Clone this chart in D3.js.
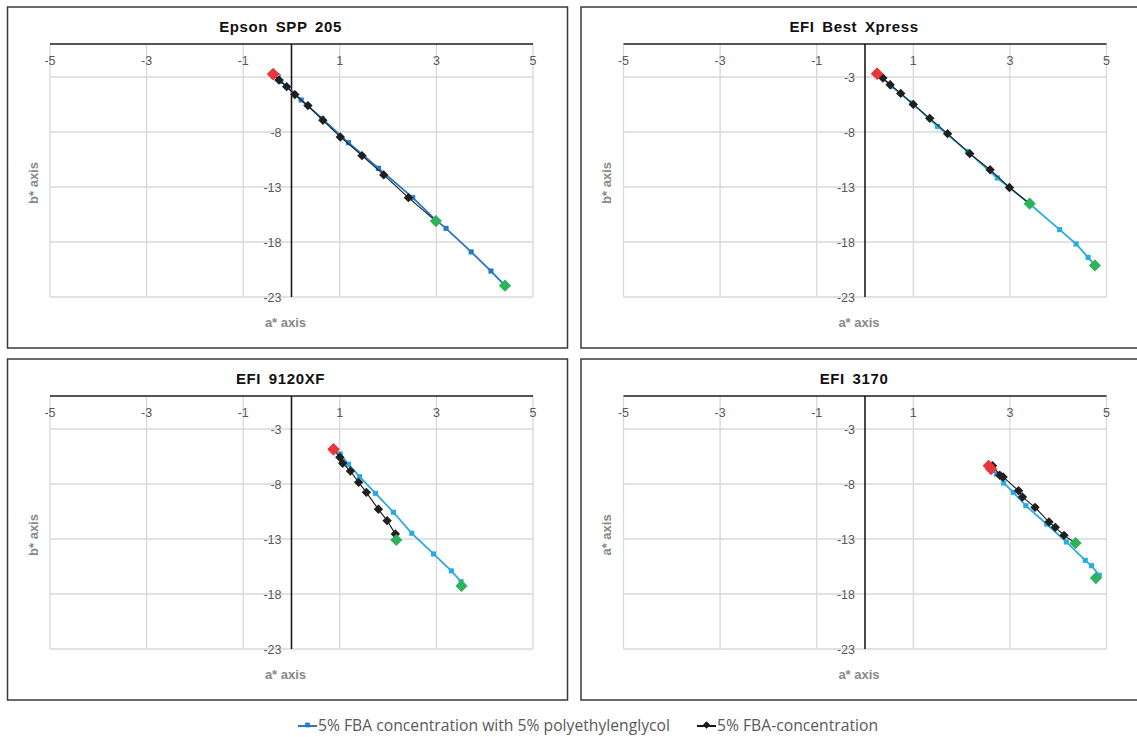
<!DOCTYPE html>
<html>
<head>
<meta charset="utf-8">
<script src="https://cdn.jsdelivr.net/npm/d3@7"></script>
<style>
  body { margin: 0; background: #fff; }
  svg { display: block; }
</style>
</head>
<body>
<div id="chart"></div>
<script>
// chart data
const titles = ["Epson SPP 205", "EFI Best Xpress", "EFI 9120XF", "EFI 3170"];
const yTitles = ["b* axis", "b* axis", "b* axis", "a* axis"];
const xTitle = "a* axis";
const xTicks = [-5, -3, -1, 1, 3, 5];
const yTicks = [-3, -8, -13, -18, -23];
const legendLabels = ["5% FBA concentration with 5% polyethylenglycol", "5% FBA-concentration"];

// [a*, b*] pairs, first point = red start, last point = green end
const epsonPeg = [[-0.38, -2.73], [-0.22, -3.4], [0.05, -4.5], [0.2, -5.09], [0.63, -6.76], [1.18, -8.97], [1.8, -11.3], [2.51, -13.97], [3.0, -16.05], [3.2, -16.76], [3.72, -18.9], [4.13, -20.64], [4.42, -21.97]];
const epsonFba = [[-0.38, -2.73], [-0.26, -3.27], [-0.1, -3.88], [0.07, -4.6], [0.34, -5.6], [0.65, -6.94], [1.01, -8.45], [1.46, -10.15], [1.91, -11.9], [2.42, -13.97], [2.99, -16.1]];

const bestPeg = [[0.25, -2.7], [0.55, -3.85], [0.97, -5.36], [1.5, -7.49], [2.12, -9.76], [2.74, -12.18], [3.4, -14.5], [4.03, -16.88], [4.37, -18.18], [4.62, -19.4], [4.76, -20.13]];
const bestFba = [[0.25, -2.7], [0.37, -3.09], [0.52, -3.7], [0.74, -4.49], [1.0, -5.49], [1.34, -6.76], [1.71, -8.15], [2.17, -9.97], [2.59, -11.43], [2.99, -13.04], [3.41, -14.52]];

const xf9120Peg = [[0.87, -4.85], [1.01, -5.27], [1.18, -6.21], [1.41, -7.33], [1.74, -8.85], [2.11, -10.57], [2.49, -12.48], [2.94, -14.36], [3.31, -15.9], [3.51, -16.88], [3.52, -17.27]];
const xf9120Fba = [[0.87, -4.85], [1.0, -5.57], [1.06, -6.12], [1.22, -6.82], [1.39, -7.85], [1.55, -8.76], [1.8, -10.3], [1.98, -11.33], [2.15, -12.55], [2.17, -13.09]];

const efi3170Peg = [[2.61, -6.64], [2.72, -7.09], [2.87, -7.91], [3.07, -8.76], [3.33, -9.97], [3.76, -11.64], [4.17, -13.27], [4.56, -14.94], [4.69, -15.43], [4.85, -16.3], [4.78, -16.55]];
const efi3170Fba = [[2.56, -6.34], [2.64, -6.34], [2.79, -7.2], [2.86, -7.36], [3.18, -8.61], [3.26, -9.18], [3.52, -10.12], [3.81, -11.46], [3.94, -11.94], [4.12, -12.67], [4.36, -13.37]];

const pegSeries = [epsonPeg, bestPeg, xf9120Peg, efi3170Peg];
const fbaSeries = [epsonFba, bestFba, xf9120Fba, efi3170Fba];
const pegColors = ["#2878c4", "#29abe2", "#29abe2", "#29abe2"];

const W = 1137, H = 737;
const panelW = 560, panelH = 341;
const panelPos = [[7.5, 7], [581, 7], [7.5, 359], [581, 359]];

const svg = d3.select("#chart").append("svg")
    .attr("width", W)
    .attr("height", H);

const diamond = d3.symbol().type(d3.symbolDiamond2);
const square = d3.symbol().type(d3.symbolSquare);

titles.forEach((title, i) => {
    const [L, T] = panelPos[i];
    const g = svg.append("g").attr("transform", "translate(" + L + "," + T + ")");

    // frame
    g.append("rect")
        .attr("width", panelW)
        .attr("height", panelH)
        .attr("fill", "#fff")
        .attr("stroke", "#3a3a3a")
        .attr("stroke-width", 1.5);

    const x = d3.scaleLinear().domain([-5, 5]).range([42.5, 525.5]);
    const y = d3.scaleLinear().domain([-23, 0]).range([290, 37]);

    // grid
    g.selectAll(".vgrid").data(xTicks).enter().append("line")
        .attr("x1", d => x(d)).attr("x2", d => x(d))
        .attr("y1", y(0)).attr("y2", y(-23))
        .attr("stroke", "#d9d9d9").attr("stroke-width", 1.3);
    g.selectAll(".hgrid").data(yTicks).enter().append("line")
        .attr("x1", x(-5)).attr("x2", x(5))
        .attr("y1", d => y(d)).attr("y2", d => y(d))
        .attr("stroke", "#d9d9d9").attr("stroke-width", 1.3);

    // axes crossing at the top (b* = 0) and at a* = 0
    g.append("line")
        .attr("x1", x(-5)).attr("x2", x(5))
        .attr("y1", y(0)).attr("y2", y(0))
        .attr("stroke", "#1a1a1a").attr("stroke-width", 1.6);
    g.append("line")
        .attr("x1", x(0)).attr("x2", x(0))
        .attr("y1", y(0)).attr("y2", y(-23))
        .attr("stroke", "#1a1a1a").attr("stroke-width", 1.6);

    // tick labels
    g.selectAll(".xt").data(xTicks).enter().append("text")
        .attr("x", d => x(d))
        .attr("y", y(0) + 21)
        .attr("text-anchor", "middle")
        .attr("font-family", "Liberation Sans, Arial, sans-serif")
        .attr("font-size", 12.5)
        .attr("fill", "#595959")
        .text(d => d);
    g.selectAll(".yt").data(yTicks).enter().append("text")
        .attr("x", x(0) - 10)
        .attr("y", d => y(d) + 4.5)
        .attr("text-anchor", "end")
        .attr("font-family", "Liberation Sans, Arial, sans-serif")
        .attr("font-size", 12.5)
        .attr("fill", "#595959")
        .text(d => d);

    // titles
    g.append("text")
        .attr("x", 273)
        .attr("y", 25)
        .attr("text-anchor", "middle")
        .attr("font-family", "Liberation Sans, Arial, sans-serif")
        .attr("font-size", 15)
        .attr("font-weight", "bold")
        .attr("letter-spacing", 0.6)
        .attr("word-spacing", 3)
        .attr("fill", "#111")
        .text(title);
    g.append("text")
        .attr("x", 278)
        .attr("y", 320)
        .attr("text-anchor", "middle")
        .attr("font-family", "Liberation Sans, Arial, sans-serif")
        .attr("font-size", 13)
        .attr("font-weight", "bold")
        .attr("fill", "#898989")
        .text(xTitle);
    g.append("text")
        .attr("transform", "translate(30,176) rotate(-90)")
        .attr("text-anchor", "middle")
        .attr("font-family", "Liberation Sans, Arial, sans-serif")
        .attr("font-size", 13)
        .attr("font-weight", "bold")
        .attr("fill", "#898989")
        .text(yTitles[i]);

    const line = d3.line().x(d => x(d[0])).y(d => y(d[1]));

    // PEG series (blue squares)
    const peg = pegSeries[i];
    g.append("path")
        .datum(peg)
        .attr("d", line)
        .attr("fill", "none")
        .attr("stroke", pegColors[i])
        .attr("stroke-width", 1.8);
    g.selectAll(".pegpt").data(peg).enter().append("path")
        .attr("transform", d => "translate(" + x(d[0]) + "," + y(d[1]) + ")")
        .attr("d", square.size(26))
        .attr("fill", pegColors[i]);

    // FBA series (black diamonds)
    const fba = fbaSeries[i];
    g.append("path")
        .datum(fba)
        .attr("d", line)
        .attr("fill", "none")
        .attr("stroke", "#1a1a1a")
        .attr("stroke-width", 1.1);
    g.selectAll(".fbapt").data(fba).enter().append("path")
        .attr("transform", d => "translate(" + x(d[0]) + "," + y(d[1]) + ")")
        .attr("d", diamond.size(56))
        .attr("fill", "#1f1f1f");

    // start (red) and end (green) markers
    const ends = [
        { p: peg[0], c: "#e8363c" }, { p: fba[0], c: "#e8363c" },
        { p: peg[peg.length - 1], c: "#2eb35c" }, { p: fba[fba.length - 1], c: "#2eb35c" }
    ];
    g.selectAll(".endpt").data(ends).enter().append("path")
        .attr("transform", d => "translate(" + x(d.p[0]) + "," + y(d.p[1]) + ")")
        .attr("d", diamond.size(95))
        .attr("fill", d => d.c);
});

// legend
const leg = svg.append("g");
const legItems = [
    { x: 298, label: legendLabels[0], color: "#2878c4", sym: square.size(22) },
    { x: 697, label: legendLabels[1], color: "#1a1a1a", sym: diamond.size(36) }
];
legItems.forEach(d => {
    leg.append("line")
        .attr("x1", d.x).attr("x2", d.x + 19)
        .attr("y1", 726).attr("y2", 726)
        .attr("stroke", d.color).attr("stroke-width", 2);
    leg.append("path")
        .attr("transform", "translate(" + (d.x + 9.5) + ",725)")
        .attr("d", d.sym)
        .attr("fill", d.color);
    leg.append("text")
        .attr("x", d.x + 20)
        .attr("y", 731)
        .attr("font-family", "Open Sans, sans-serif")
        .attr("font-size", 15.7)
        .attr("fill", "#595959")
        .text(d.label);
});
</script>
</body>
</html>
